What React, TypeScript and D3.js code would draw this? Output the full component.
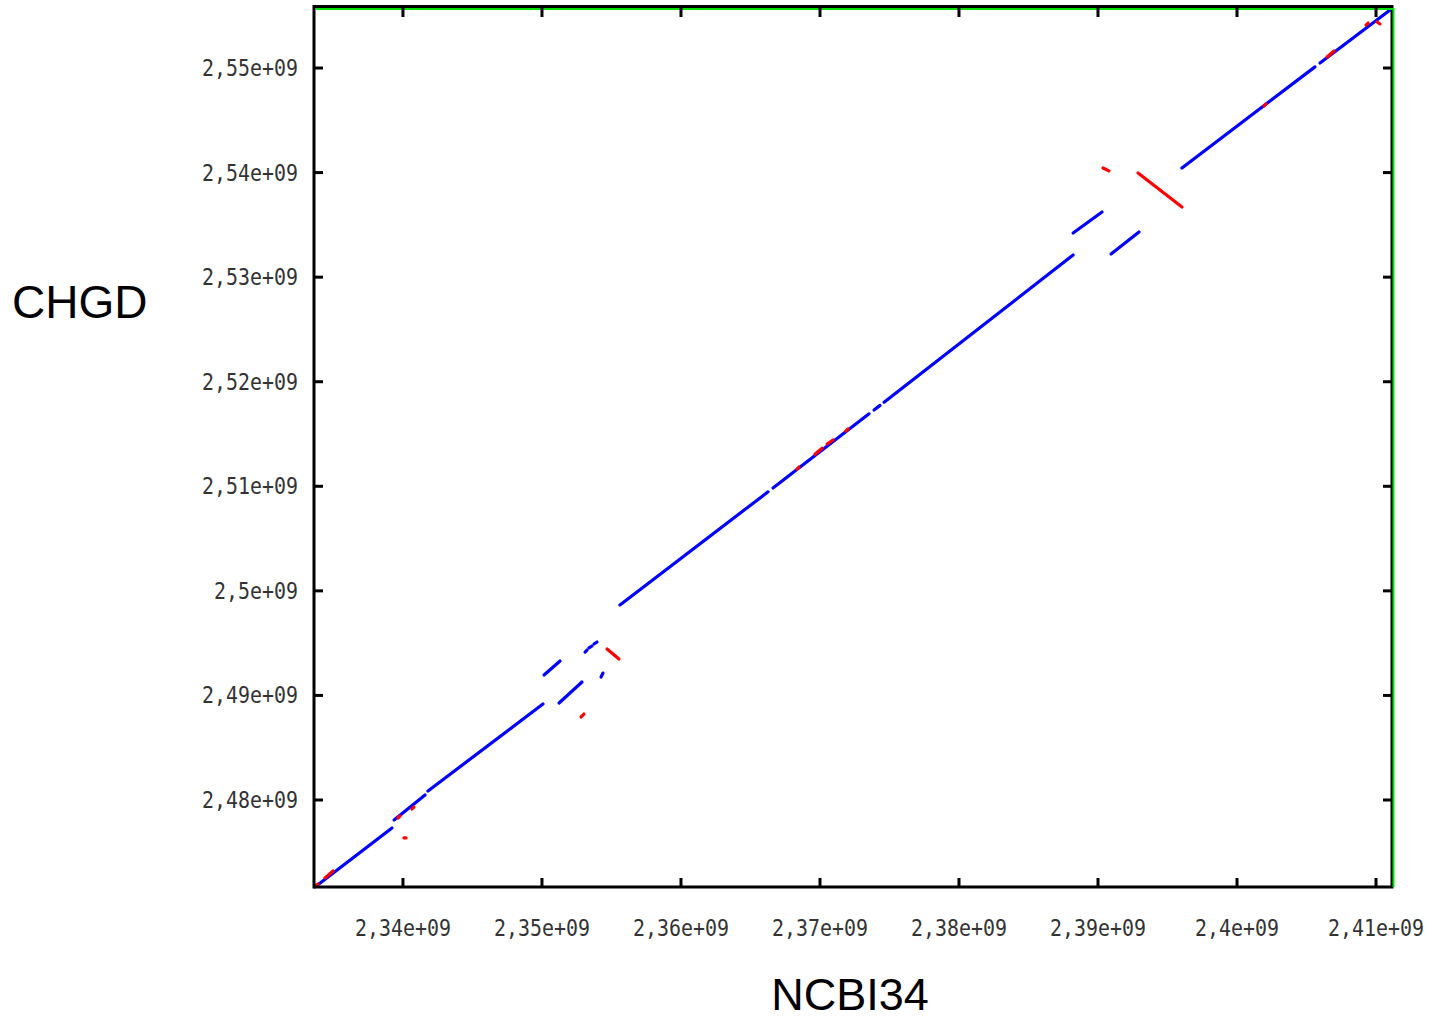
import React from "react";
import * as d3 from "d3";

// Alignment blocks, in Mb: [NCBI34 start, CHGD start, NCBI34 end, CHGD end]
const forwardBlocks: number[][] = [
  [2333.67, 2471.68, 2339.21, 2477.32],
  [2339.36, 2478.09, 2341.59, 2480.48],
  [2341.80, 2480.86, 2350.07, 2489.18],
  [2350.15, 2491.95, 2351.30, 2493.29],
  [2351.23, 2489.28, 2352.88, 2491.28],
  [2353.10, 2494.15, 2353.24, 2494.34],
  [2353.38, 2494.54, 2353.60, 2494.73],
  [2353.74, 2494.92, 2353.96, 2495.11],
  [2354.25, 2491.76, 2354.39, 2492.14],
  [2355.61, 2498.65, 2366.26, 2509.47],
  [2366.62, 2509.84, 2373.53, 2516.93],
  [2373.89, 2517.30, 2374.32, 2517.74],
  [2374.61, 2518.04, 2388.21, 2532.12],
  [2388.21, 2534.22, 2390.29, 2536.23],
  [2390.94, 2532.21, 2392.95, 2534.32],
  [2396.04, 2540.44, 2405.61, 2550.11],
  [2405.97, 2550.48, 2411.01, 2555.55],
];

const reverseBlocks: number[][] = [
  [2354.68, 2494.44, 2355.54, 2493.48],
  [2352.81, 2487.94, 2353.02, 2488.22],
  [2390.36, 2540.44, 2390.79, 2540.16],
  [2392.88, 2539.96, 2396.04, 2536.71],
  [2333.67, 2471.78, 2333.89, 2471.97],
  [2334.39, 2472.54, 2334.97, 2473.21],
  [2339.64, 2478.28, 2339.79, 2478.47],
  [2340.65, 2479.14, 2340.79, 2479.33],
  [2340.07, 2476.37, 2340.22, 2476.37],
  [2368.35, 2511.65, 2368.49, 2511.84],
  [2369.64, 2513.07, 2370.15, 2513.64],
  [2370.51, 2514.04, 2370.94, 2514.43],
  [2371.87, 2515.29, 2372.02, 2515.48],
  [2401.95, 2546.37, 2402.09, 2546.56],
  [2406.48, 2551.05, 2406.98, 2551.63],
  [2409.28, 2554.11, 2409.43, 2554.30],
  [2410.07, 2554.40, 2410.29, 2554.21],
];

const xTicks = [2.34e9, 2.35e9, 2.36e9, 2.37e9, 2.38e9, 2.39e9, 2.4e9, 2.41e9];
const xTickLabels = ["2,34e+09", "2,35e+09", "2,36e+09", "2,37e+09", "2,38e+09", "2,39e+09", "2,4e+09", "2,41e+09"];
const yTicks = [2.48e9, 2.49e9, 2.5e9, 2.51e9, 2.52e9, 2.53e9, 2.54e9, 2.55e9];
const yTickLabels = ["2,48e+09", "2,49e+09", "2,5e+09", "2,51e+09", "2,52e+09", "2,53e+09", "2,54e+09", "2,55e+09"];

const W = 1429;
const H = 1020;
const left = 314;
const right = 1392;
const top = 8;
const bottom = 887;

const MB = 1e6;

export default function App() {
  const x = d3.scaleLinear().domain([2333.6 * MB, 2411.15 * MB]).range([left, right]);
  const y = d3.scaleLinear().domain([2471.68 * MB, 2555.74 * MB]).range([bottom, top]);

  const tickFont = "'DejaVu Sans Mono', 'Liberation Mono', monospace";
  const titleFont = "'Liberation Sans', Arial, sans-serif";
  const tickLen = 9;
  const charW = 12;

  const seg = (b: number[], i: number, color: string) => (
    <line
      key={color + i}
      x1={x(b[0] * MB)}
      y1={y(b[1] * MB)}
      x2={x(b[2] * MB)}
      y2={y(b[3] * MB)}
      stroke={color}
      strokeWidth={3.2}
      strokeLinecap="round"
    />
  );

  return (
    <svg
      width={W}
      height={H}
      style={{ position: "absolute", left: 0, top: 0, background: "#fff" }}
    >
      <rect x={0} y={0} width={W} height={H} fill="#fff" />

      {/* alignment blocks */}
      <g>{forwardBlocks.map((b, i) => seg(b, i, "#0000ff"))}</g>
      <g>{reverseBlocks.map((b, i) => seg(b, i, "#ff0000"))}</g>

      {/* frame */}
      <rect
        x={left}
        y={top - 1.5}
        width={right - left}
        height={bottom - top + 1.5}
        fill="none"
        stroke="#000"
        strokeWidth={3}
      />
      <line x1={left + 2} y1={top + 1} x2={right + 2} y2={top + 1} stroke="#00e000" strokeWidth={2} />
      <line x1={right + 1.5} y1={top} x2={right + 1.5} y2={bottom} stroke="#00e000" strokeWidth={2} />

      {/* x ticks */}
      {xTicks.map((t, i) => (
        <g key={"xt" + i}>
          <line x1={x(t)} y1={bottom} x2={x(t)} y2={bottom - tickLen} stroke="#000" strokeWidth={3} />
          <line x1={x(t)} y1={top} x2={x(t)} y2={top + tickLen} stroke="#000" strokeWidth={3} />
          <text
            x={x(t)}
            y={936}
            textAnchor="middle"
            fontFamily={tickFont}
            fontSize={23}
            fill="#333"
            textLength={xTickLabels[i].length * charW}
            lengthAdjust="spacingAndGlyphs"
          >
            {xTickLabels[i]}
          </text>
        </g>
      ))}

      {/* y ticks */}
      {yTicks.map((t, i) => (
        <g key={"yt" + i}>
          <line x1={left} y1={y(t)} x2={left + tickLen} y2={y(t)} stroke="#000" strokeWidth={3} />
          <line x1={right} y1={y(t)} x2={right - tickLen} y2={y(t)} stroke="#000" strokeWidth={3} />
          <text
            x={298 - yTickLabels[i].length * charW}
            y={y(t) + 8}
            textAnchor="start"
            fontFamily={tickFont}
            fontSize={23}
            fill="#333"
            textLength={yTickLabels[i].length * charW}
            lengthAdjust="spacingAndGlyphs"
          >
            {yTickLabels[i]}
          </text>
        </g>
      ))}

      {/* axis titles */}
      <text x={12} y={318} fontFamily={titleFont} fontSize={46} fill="#000">
        CHGD
      </text>
      <text x={850} y={1010} textAnchor="middle" fontFamily={titleFont} fontSize={45} fill="#000">
        NCBI34
      </text>
    </svg>
  );
}
